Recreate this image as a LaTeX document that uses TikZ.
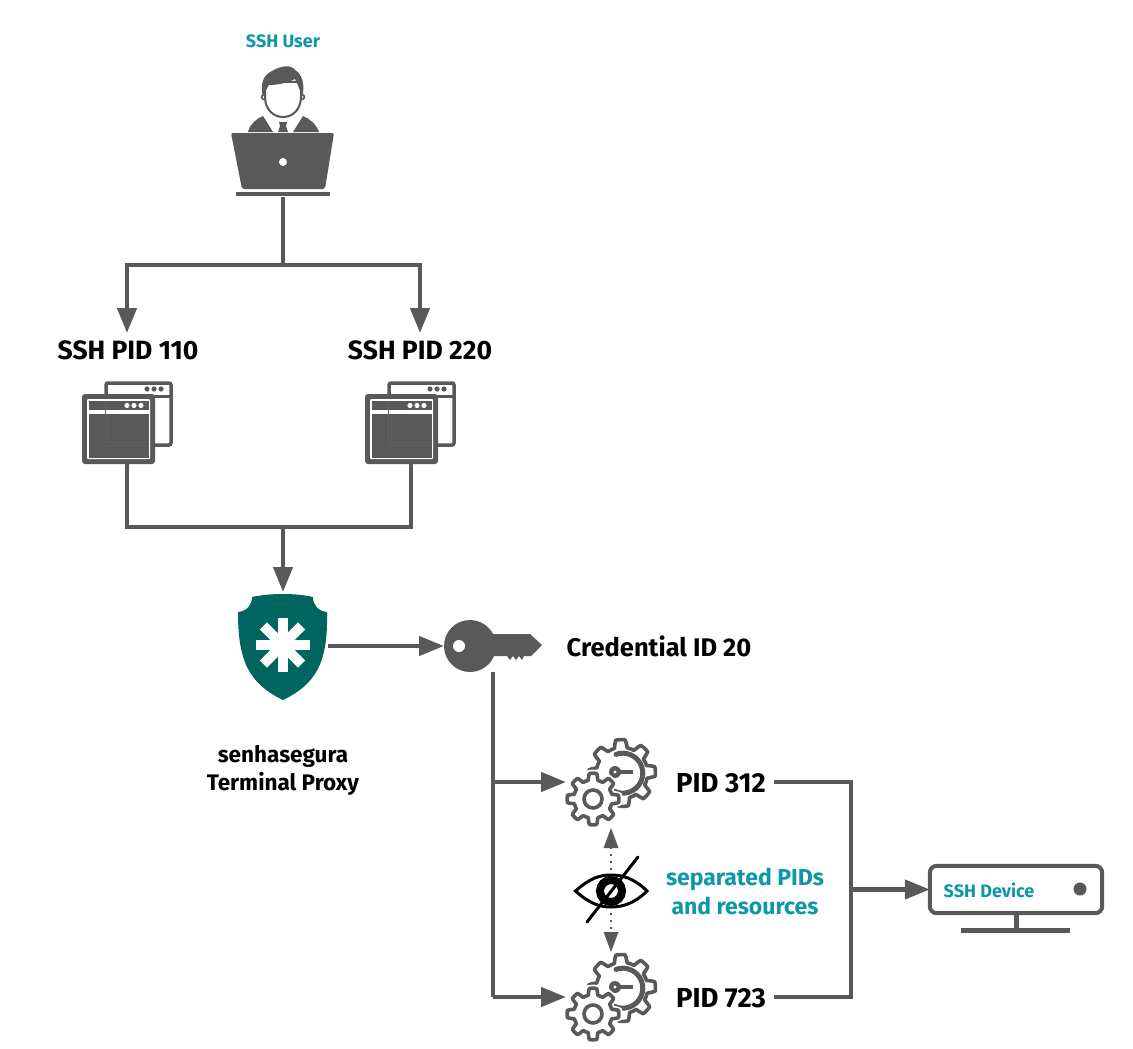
\documentclass[tikz,border=0pt]{standalone}
\usepackage{fontspec}
\setmainfont{Fira Sans}
\usetikzlibrary{arrows.meta,calc}
\definecolor{dk}{HTML}{595959}
\definecolor{teal1}{HTML}{0E97A8}
\definecolor{shield}{HTML}{00655F}
\tikzset{
  wire/.style={draw=dk,line width=4.4pt},
  arr/.style={wire,-{Triangle[length=25pt,width=19pt]}},
  dotarr/.style={draw=dk,line width=2pt,dash pattern=on 2pt off 5pt,-{Triangle[length=20pt,width=15pt,line width=0pt]}},
  lbl/.style={font=\bfseries\fontsize{26.5}{28}\selectfont,text=black,align=center,inner sep=0pt},
  credlbl/.style={font=\bfseries\fontsize{25.5}{28}\selectfont,text=black,inner sep=0pt},
  pidlbl/.style={font=\bfseries\fontsize{27.5}{28}\selectfont,text=black,inner sep=0pt},
  lblteal/.style={font=\bfseries\fontsize{23}{29}\selectfont,text=teal1,align=center,inner sep=0pt},
  smallteal/.style={font=\bfseries\fontsize{18}{20}\selectfont,text=teal1,inner sep=0pt},
  midlbl/.style={font=\bfseries\fontsize{22.5}{28}\selectfont,text=black,align=center,inner sep=0pt},
  winicon/.pic={
    % back window
    \draw[dk,line width=3.5pt,fill=white,rounded corners=2pt] (24,-11) rectangle (89,51);
    \fill[dk] (24,1) rectangle (89,4);
    \foreach \x in {65,72,79} \fill[dk] (\x,-5) circle (2.6);
    % front window
    \fill[dk,rounded corners=3pt] (0,0) rectangle (73,70);
    \fill[white,rounded corners=1pt] (5,5) rectangle (68,65);
    \fill[dk] (6.5,6.5) rectangle (66.5,16);
    \fill[dk] (6.5,19.5) rectangle (66.5,63.5);
    \foreach \x in {45,52,59} \fill[white] (\x,11.5) circle (2.6);
    \draw[gray!75!black,line width=.8pt] (23,6.5) -- (23,51) -- (66.5,51);
    \draw[gray!75!black,line width=.8pt] (26,19.5) -- (26,48) -- (66.5,48);
  },
  gearicon/.pic={
    \draw[dk,line width=3.6pt,line join=round,fill=white] plot[samples=320,domain=0:360] ({(29.5+3.9*max(-1,min(1,2.4*cos(8*\x+22))))*cos(\x)},{(29.5+3.9*max(-1,min(1,2.4*cos(8*\x+22))))*sin(\x)}) -- cycle;
    \draw[dk,line width=5pt,line cap=round] (-18,7) arc[start angle=160,end angle=-110,radius=20];
    \fill[dk] (-7,-1) circle (6);
    \fill[white] (-7,-1) circle (1.7);
    \draw[dk,line width=3.4pt] (-3,-1) -- (11,-1);
    \begin{scope}[shift={(-29,26)}]
      \draw[white,line width=7pt,fill=white] plot[samples=240,domain=0:360] ({(22.5+3.3*max(-1,min(1,2.4*cos(8*\x))))*cos(\x)},{(22.5+3.3*max(-1,min(1,2.4*cos(8*\x))))*sin(\x)}) -- cycle;
      \draw[dk,line width=3.6pt,line join=round,fill=white] plot[samples=240,domain=0:360] ({(22.5+3.3*max(-1,min(1,2.4*cos(8*\x))))*cos(\x)},{(22.5+3.3*max(-1,min(1,2.4*cos(8*\x))))*sin(\x)}) -- cycle;
      \draw[dk,line width=3.6pt] (0,0) circle (9);
    \end{scope}
  }
}
\begin{document}
\begin{tikzpicture}[x=1pt,y=-1pt]
\useasboundingbox (0,0) rectangle (1133,1049);
% ---------- text
\node[smallteal] (userlbl) at (283,41) {SSH User};
\node[lbl] (pid110) at (128,350) {SSH PID 110};
\node[lbl] (pid220) at (420,350) {SSH PID 220};
\node[midlbl] (proxy) at (283,770) {senhasegura\\Terminal Proxy};
\node[credlbl] (cred) at (659,646) {Credential ID 20};
\node[pidlbl] (p312) at (721,783) {PID 312};
\node[pidlbl] (p723) at (721,998) {PID 723};
\node[lblteal] (sep) at (745,891) {separated PIDs\\and resources};
% ---------- anchors standing for the icons
\node[inner sep=0pt,minimum width=100pt,minimum height=2pt] (laptop) at (283,196) {};
\node[inner sep=0pt,minimum width=73pt,minimum height=70pt] (win1) at (127,429) {};
\node[inner sep=0pt,minimum width=73pt,minimum height=70pt] (win2) at (411,429) {};
\node[inner sep=0pt,minimum width=89pt,minimum height=106pt] (shieldn) at (283,646) {};
\node[inner sep=0pt,minimum width=98pt,minimum height=52pt] (key) at (493,646) {};
\node[inner sep=0pt,minimum width=90pt,minimum height=46pt] (gear1) at (611,782) {};
\node[inner sep=0pt,minimum width=90pt,minimum height=46pt] (gear2) at (611,997) {};
\node[inner sep=0pt,minimum width=73pt,minimum height=35pt] (eye) at (611,888) {};
\node[inner sep=0pt,minimum width=172pt,minimum height=47pt] (device) at (1016,889.5) {};
\coordinate (split1) at (283,265);
\coordinate (merge1) at (283,527);
\coordinate (keyj) at (493,782);
\coordinate (busmid) at (851,889.5);
% ---------- connectors
\draw[wire] (laptop.south) -- (split1);
\draw[arr] (split1) -| (127,333);
\draw[arr] (split1) -| (420,333);
\draw[wire] (win1.south) |- (merge1);
\draw[wire] (win2.south) |- (merge1);
\draw[arr] (merge1) -- (283,592);
\draw[arr] (328,646) -- (444,646);
\draw[wire] (493,672) -- (493,997);
\draw[arr] (keyj) -- (566,782);
\draw[arr] (493,997) -- (566,997);
\draw[wire] (774,782) -| (busmid);
\draw[wire] (774,997) -| (busmid);
\draw[arr] (busmid) -- (device.west);
\draw[dotarr] (611,870) -- (611,828);
\draw[dotarr] (611,906) -- (611,952);
% ---------- laptop user
\fill[dk,rounded corners=2pt] (231,133) -- (334,133) -- (325,189) -- (242,189) -- cycle;
\fill[white] (283,162) circle (4);
\draw[dk,line width=4pt] (236,194) -- (330,194);
\fill[dk] (248,132) .. controls (250,124) and (256,119) .. (263,116) -- (273,132) -- cycle;
\fill[dk] (319,132) .. controls (316,124) and (310,119) .. (303,116) -- (293,132) -- cycle;
\fill[dk] (279,122) -- (287,122) -- (286,126) -- (288,132) -- (278,132) -- (280,126) -- cycle;
\draw[dk,line width=1.6pt,fill=white] (264,97) circle (2.4);
\draw[dk,line width=1.6pt,fill=white] (302,97) circle (2.4);
\draw[dk,line width=2pt,fill=white] (265,82) -- (265,97) .. controls (265,109) and (273,117) .. (283,117) .. controls (293,117) and (301,109) .. (301,97) -- (301,82) -- cycle;
\fill[dk] (263,97) .. controls (260,84) and (263,75) .. (272,71) .. controls (280,66) and (291,64) .. (295,70) .. controls (301,73) and (306,84) .. (302,97) .. controls (300,90) and (298,85) .. (295,79) .. controls (286,84) and (274,85) .. (269,85) .. controls (267,88) and (265,92) .. (263,97) -- cycle;
% ---------- windows
\path (82,394) pic {winicon};
\path (365,394) pic {winicon};
% ---------- shield
\fill[shield] (252,597) .. controls (270,593) and (296,593) .. (313,597) .. controls (313,605) and (318,611) .. (327,612)
  .. controls (328,660) and (318,683) .. (283,700) .. controls (248,683) and (238,660) .. (238,612) .. controls (247,611) and (252,605) .. (252,597) -- cycle;
\foreach \a in {0,45,90,135} \draw[white,line width=10pt] ($(282.5,645)+(\a:27)$) -- ($(282.5,645)+(\a+180:27)$);
% ---------- key
\fill[dk] (470,646) circle (26);
\fill[dk] (490,634) -- (530,634) -- (542,645) -- (531,656) -- (524,656) -- (522,660) -- (519,656) -- (516,660) -- (513,656) -- (510,660) -- (507,656) -- (490,656) -- cycle;
\fill[white] (459,646) circle (6);
% ---------- gears
\path (622,773) pic {gearicon};
\path (622,988) pic {gearicon};
% ---------- eye
\draw[black,line width=3pt,line join=miter] (575.5,891) .. controls (590,878) and (600,875) .. (611,875) .. controls (622,875) and (634,878) .. (647,891) .. controls (634,904) and (622,907) .. (611,907) .. controls (600,907) and (590,904) .. (575.5,891) -- cycle;
\draw[black,line width=8pt] (611,891) circle (11);
\draw[black,line width=3pt,line cap=round] (587,922) -- (638,857);
% ---------- device
\draw[dk,line width=4pt,rounded corners=7pt,fill=white] (device.south west) rectangle (device.north east);
\fill[dk] (1080,889) circle (6.5);
\draw[dk,line width=5pt] (1016,913) -- (1016,930);
\draw[dk,line width=5pt] (961,930) -- (1070,930);
\node[smallteal] (devlbl) at (989,890) {SSH Device};
\end{tikzpicture}
\end{document}
